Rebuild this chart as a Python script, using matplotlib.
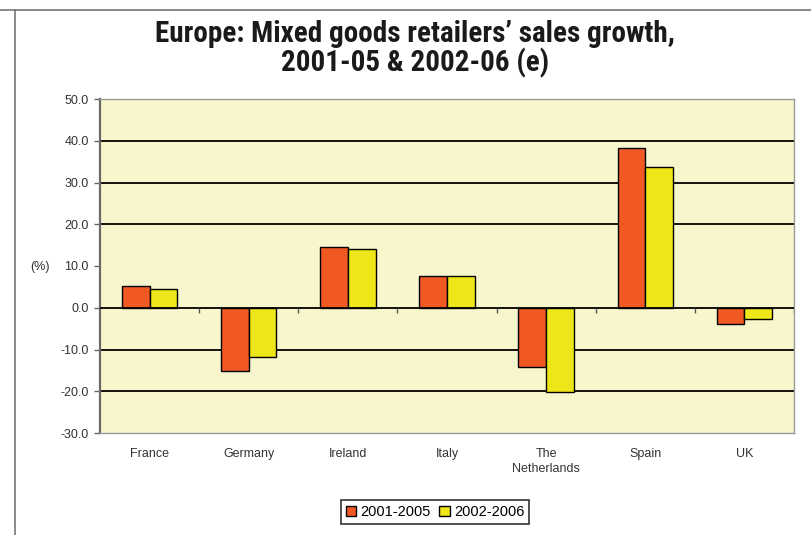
import matplotlib
matplotlib.use('Agg')
import matplotlib.pyplot as plt
import numpy as np

countries = ['France', 'Germany', 'Ireland', 'Italy', 'The\nNetherlands', 'Spain', 'UK']
growth_0105 = [5.1, -15.1, 14.6, 7.7, -14.3, 38.2, -3.8]
growth_0206 = [4.5, -11.7, 14.1, 7.7, -20.2, 33.7, -2.6]
series_labels = ['2001-2005', '2002-2006']
yticks = [-30, -20, -10, 0, 10, 20, 30, 40, 50]
grid_at = [-20, -10, 20, 30, 40]

orange = '#F05A22'
yellow = '#EEE619'
plt.rcParams['font.family'] = ['Liberation Sans', 'DejaVu Sans']

fig = plt.figure(figsize=(8.11, 5.35), dpi=100)
ax = fig.add_axes([100/811, 1-433/535, 694/811, 334/535])
ax.set_facecolor('#F8F6CC')

x = np.arange(len(countries))
w = 0.28
ax.bar(x - w/2, growth_0105, w, color=orange, edgecolor='black', linewidth=1, label=series_labels[0], zorder=3)
ax.bar(x + w/2, growth_0206, w, color=yellow, edgecolor='black', linewidth=1, label=series_labels[1], zorder=3)

for g in grid_at:
    ax.axhline(g, color='black', lw=1.3, zorder=1)
ax.axhline(0, color='black', lw=1.3, zorder=4)
# small tick marks on the zero line between categories
ax.vlines(np.arange(len(countries)) + 0.5, -1.3, 0, color='#555555', lw=1, zorder=4)

ax.set_xlim(-0.5, len(countries) - 0.5)
ax.set_ylim(-30, 50)
ax.set_yticks(yticks)
ax.set_yticklabels(['%.1f' % v for v in yticks], fontsize=9, color='#333333')
ax.set_xticks(x)
ax.set_xticklabels(countries, fontsize=9, color='#333333', linespacing=1.25, va='top')
ax.tick_params(axis='x', length=0, pad=11)
ax.tick_params(axis='y', length=4, width=1, color='#666666', pad=4)
for s in ['left', 'right', 'bottom', 'top']:
    ax.spines[s].set_color('#9a9a9a')
    ax.spines[s].set_linewidth(1)
ax.spines['left'].set_color('#6a6a6a')
ax.spines['left'].set_linewidth(1.6)

fig.text(30/811, 1-267/535, '(%)', fontsize=9, color='#333333', ha='left', va='center')

fig.text(415/811, 1-49/535, 'Europe: Mixed goods retailers\u2019 sales growth,\n2001-05 & 2002-06 (e)',
         ha='center', va='center', fontsize=21, fontweight='heavy', linespacing=1.0,
         family=['Roboto Condensed', 'Liberation Sans Narrow', 'DejaVu Sans'],
         fontstretch='condensed', color='#1a1a1a')

leg = fig.legend(loc='center', bbox_to_anchor=(435/811, 1-512/535), ncol=2, fontsize=10.5,
                 frameon=True, fancybox=False, edgecolor='black', handlelength=0.7, handleheight=0.7,
                 handletextpad=0.3, columnspacing=0.6, borderpad=0.35)
leg.get_frame().set_linewidth(1.2)

# page border lines
fig.add_artist(plt.Line2D([15/811, 15/811], [0, 1-10/535], color='#777777', lw=1.2))
fig.add_artist(plt.Line2D([0, 1], [1-10/535, 1-10/535], color='#777777', lw=1.2))

fig.savefig('out.png', dpi=100)
